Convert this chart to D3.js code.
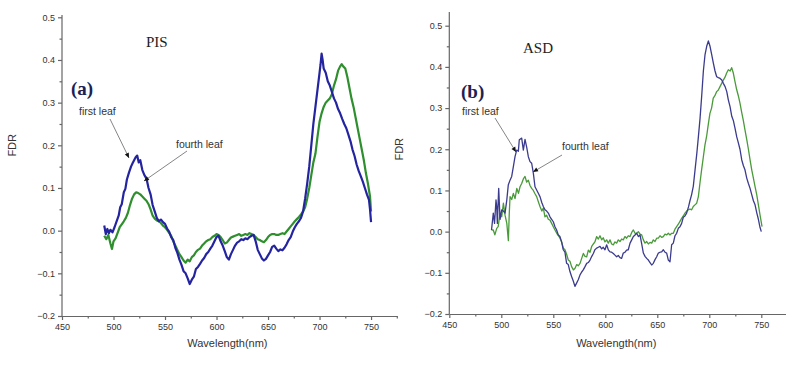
<!DOCTYPE html>
<html>
<head>
<meta charset="utf-8">
<script src="https://cdn.jsdelivr.net/npm/d3@7"></script>
<style>
  body { margin: 0; background: #fff; }
  svg { display: block; }
  .tick text { font-family: "Liberation Sans Narrow", "Arial Narrow", "Liberation Sans", Arial, sans-serif; font-size: 9px; fill: #333; }
  .axis path, .axis line { stroke: #666; stroke-width: 1.2; }
  .axis-label { font-family: "Liberation Sans", Arial, sans-serif; font-size: 11px; fill: #333; }
  .note { font-family: "Liberation Sans Narrow", "Arial Narrow", "Liberation Sans", Arial, sans-serif; font-size: 10.5px; fill: #333; }
  .title { font-family: "Liberation Serif", "Times New Roman", serif; font-size: 15px; fill: #222; }
  .tag { font-family: "Liberation Serif", "Times New Roman", serif; font-size: 19px; font-weight: bold; fill: #1c2152; }
</style>
</head>
<body>
<div class="chart"></div>
<script>
var svgWidth = 786;
var svgHeight = 365;

// tick values
var xTicks = [450, 500, 550, 600, 650, 700, 750];
var yTicks = [-0.2, -0.1, 0.0, 0.1, 0.2, 0.3, 0.4, 0.5];

// PIS, first leaf  [wavelength, FDR]
var pisFirst = [[491,0.012],[492.5,-0.008],[494,0.004],[495.5,-0.006],[497,0.002],[499,-0.004],[501,0.008],[503,0.022],
  [505,0.035],[506.5,0.055],[508,0.062],[510,0.09],[511.5,0.098],[513,0.12],[515,0.136],[517,0.15],[518.5,0.158],
  [520,0.165],[521.5,0.172],[523,0.176],[524.5,0.16],[526,0.165],[528,0.142],[530,0.13],[532,0.122],[534,0.1],
  [536,0.085],[538,0.06],[540,0.045],[542,0.03],[544,0.022],[546,0.026],[548,0.02],[550,0.016],[552,0.005],
  [554,-0.002],[556,-0.015],[558,-0.022],[560,-0.04],[562,-0.052],[564,-0.068],[566,-0.08],[568,-0.095],[570,-0.1],
  [572,-0.112],[574,-0.125],[576,-0.115],[578,-0.108],[580,-0.09],[582,-0.085],[584,-0.078],[586,-0.07],[588,-0.064],
  [590,-0.055],[592,-0.05],[594,-0.042],[596,-0.035],[598,-0.025],[600,-0.015],[602,-0.012],[604,-0.025],[606,-0.035],
  [608,-0.048],[610,-0.062],[612,-0.068],[614,-0.055],[616,-0.045],[618,-0.035],[620,-0.028],[622,-0.025],[624,-0.02],
  [626,-0.022],[628,-0.018],[630,-0.02],[632,-0.015],[634,-0.012],[636,-0.01],[638,-0.025],[640,-0.045],[642,-0.055],
  [644,-0.065],[646,-0.07],[648,-0.066],[650,-0.058],[652,-0.05],[654,-0.038],[656,-0.035],[658,-0.042],[660,-0.048],
  [662,-0.044],[664,-0.046],[666,-0.04],[668,-0.032],[670,-0.022],[672,-0.015],[674,-0.002],[676,0.008],[678,0.016],
  [680,0.022],[682,0.03],[684,0.045],[686,0.075],[688,0.11],[690,0.15],[692,0.2],[694,0.25],[696,0.29],[698,0.33],
  [700,0.37],[701,0.39],[702,0.415],[703,0.4],[704,0.38],[706,0.37],[708,0.35],[710,0.34],[712,0.325],[714,0.31],
  [716,0.3],[718,0.285],[720,0.275],[722,0.262],[724,0.25],[726,0.24],[728,0.225],[730,0.21],[732,0.19],[734,0.175],
  [736,0.155],[738,0.14],[740,0.128],[742,0.115],[744,0.1],[746,0.085],[748,0.072],[749,0.05],[750,0.02]];

// PIS, fourth leaf
var pisFourth = [[491,-0.012],[493,-0.02],[495,-0.01],[497,-0.03],[498.5,-0.043],[500,-0.025],[502,-0.018],[504,-0.005],
  [506,0.008],[508,0.015],[510,0.022],[512,0.03],[514,0.042],[516,0.06],[518,0.075],[520,0.085],[522,0.09],[524,0.088],
  [526,0.085],[528,0.08],[530,0.075],[532,0.07],[534,0.062],[536,0.05],[538,0.035],[540,0.028],[542,0.024],[544,0.022],
  [546,0.018],[548,0.012],[550,0.008],[552,0.002],[554,-0.005],[556,-0.012],[558,-0.025],[560,-0.035],[562,-0.045],
  [564,-0.055],[566,-0.062],[568,-0.07],[570,-0.075],[572,-0.068],[574,-0.072],[576,-0.062],[578,-0.058],[580,-0.05],
  [582,-0.045],[584,-0.042],[586,-0.035],[588,-0.03],[590,-0.025],[592,-0.022],[594,-0.02],[596,-0.015],[598,-0.012],
  [600,-0.008],[602,-0.01],[604,-0.015],[606,-0.022],[608,-0.03],[610,-0.028],[612,-0.022],[614,-0.016],[616,-0.014],
  [618,-0.012],[620,-0.01],[622,-0.008],[624,-0.012],[626,-0.01],[628,-0.008],[630,-0.01],[632,-0.006],[634,-0.008],
  [636,-0.01],[638,-0.015],[640,-0.02],[642,-0.022],[644,-0.025],[646,-0.027],[648,-0.022],[650,-0.015],[652,-0.01],
  [654,-0.008],[656,-0.008],[658,-0.01],[660,-0.01],[662,-0.008],[664,-0.006],[666,-0.008],[668,-0.002],[670,0.004],
  [672,0.01],[674,0.016],[676,0.022],[678,0.027],[680,0.032],[682,0.038],[684,0.045],[686,0.055],[688,0.075],[690,0.1],
  [692,0.13],[694,0.16],[696,0.18],[698,0.22],[700,0.255],[702,0.275],[704,0.29],[706,0.3],[708,0.305],[710,0.31],
  [712,0.32],[714,0.34],[716,0.355],[718,0.375],[720,0.385],[721.5,0.39],[723,0.385],[725,0.38],[727,0.36],[729,0.335],
  [731,0.31],[733,0.29],[735,0.265],[737,0.24],[739,0.215],[741,0.19],[743,0.165],[745,0.135],[747,0.11],[749,0.08],
  [750,0.045]];

// ASD, first leaf
var asdFirst = [[490.6,0.004],[492.3,0.045],[493.5,0.02],[494.9,0.077],[495.6,0.06],[496.2,0.02],[497.5,0.105],[498.8,0.03],
  [500.4,0.053],[502,0.05],[503.6,0.045],[505.3,0.077],[506.7,0.113],[508.4,0.125],[510,0.134],[511.6,0.158],[513.2,0.182],
  [514.8,0.198],[516.4,0.195],[517.3,0.223],[519.6,0.227],[521.2,0.198],[522.8,0.224],[524.4,0.205],[526,0.182],
  [527.6,0.17],[529.2,0.166],[530.8,0.142],[532.4,0.109],[534,0.101],[535.6,0.093],[537.2,0.085],[539,0.07],[540.4,0.061],
  [542,0.053],[543.6,0.05],[545.2,0.045],[546.8,0.036],[548.4,0.03],[550,0.024],[551.6,0.012],[553.2,0.004],[554.8,-0.008],
  [556.4,-0.012],[558,-0.025],[559.6,-0.044],[561.2,-0.05],[562.8,-0.077],[564.4,-0.08],[566,-0.097],[567.6,-0.109],
  [569.2,-0.12],[570.8,-0.133],[572.4,-0.125],[574,-0.117],[575.7,-0.105],[577.3,-0.098],[578.8,-0.093],[580.5,-0.085],
  [582.1,-0.077],[583.7,-0.075],[585.3,-0.069],[587,-0.06],[588.5,-0.053],[590,-0.044],[591.7,-0.04],[593.3,-0.038],
  [594.9,-0.036],[596.5,-0.042],[598,-0.038],[599.7,-0.044],[601.3,-0.032],[603,-0.045],[604.5,-0.049],[606.1,-0.05],
  [607.7,-0.053],[609.3,-0.057],[610.9,-0.061],[612.5,-0.058],[614.1,-0.063],[615.7,-0.065],[617.3,-0.052],[618.9,-0.05],
  [620.5,-0.045],[622.1,-0.044],[623.8,-0.028],[625.4,-0.02],[627,-0.012],[628.6,-0.008],[630.2,-0.004],[631.8,-0.012],
  [633.4,-0.008],[635,-0.03],[636.6,-0.052],[638.2,-0.06],[639.8,-0.065],[641.4,-0.069],[643,-0.075],[644.6,-0.081],
  [646.2,-0.077],[647.8,-0.068],[649.4,-0.061],[651,-0.052],[652.6,-0.05],[654.2,-0.049],[655.8,-0.044],[657.4,-0.05],
  [659,-0.052],[660.6,-0.069],[662.2,-0.073],[663.8,-0.032],[665.4,-0.028],[667,-0.01],[668.6,-0.004],[670.2,0.008],
  [671.8,0.012],[673.4,0.02],[675,0.035],[676.6,0.038],[678.2,0.045],[680,0.06],[681.4,0.075],[683,0.09],[684.6,0.11],
  [686.3,0.15],[688,0.19],[689.5,0.23],[691.1,0.275],[692.7,0.33],[694.3,0.39],[695.9,0.43],[697.5,0.45],[699.1,0.463],
  [700.7,0.45],[702.3,0.43],[703.9,0.409],[705.5,0.39],[707.1,0.376],[708.7,0.374],[710.4,0.372],[712,0.368],[713.5,0.36],
  [715.2,0.352],[716.8,0.34],[718.3,0.32],[720,0.303],[721.6,0.28],[723.1,0.27],[724.8,0.25],[726.4,0.23],[728,0.215],
  [729.5,0.2],[731.2,0.174],[732.8,0.16],[734.3,0.15],[736,0.13],[737.6,0.117],[739.2,0.105],[740.8,0.09],[742.4,0.075],
  [744,0.065],[745.7,0.045],[747.2,0.03],[748.8,0.01],[750,0.0]];

// ASD, fourth leaf
var asdFourth = [[490.6,0.004],[492.3,0.004],[493.8,-0.008],[495.6,0.008],[497,0.012],[498.8,0.045],[500.4,0.036],[502,0.069],
  [503.6,0.04],[505.3,0.02],[506.8,-0.022],[507.6,0.04],[508.4,0.085],[510,0.078],[511.6,0.093],[513.2,0.08],[514.9,0.105],
  [516.5,0.093],[518,0.109],[519.6,0.117],[521.2,0.128],[522.8,0.134],[524.4,0.12],[526,0.125],[527.6,0.112],[529.2,0.105],
  [530.8,0.1],[532.4,0.092],[534,0.085],[535.7,0.072],[537.2,0.061],[539,0.05],[540.4,0.057],[542,0.036],[543.6,0.04],
  [545.2,0.03],[546.8,0.028],[548.4,0.02],[550,0.012],[551.6,0.004],[553.3,-0.004],[555,-0.01],[556.4,-0.016],[558,-0.025],
  [559.6,-0.04],[561.2,-0.044],[562.8,-0.055],[564.4,-0.069],[566,-0.072],[567.6,-0.085],[569.3,-0.093],[570.9,-0.089],
  [572.5,-0.08],[574,-0.083],[575.7,-0.077],[577.3,-0.065],[578.9,-0.053],[580.5,-0.06],[582.1,-0.061],[583.7,-0.045],
  [585.3,-0.05],[586.9,-0.036],[588.5,-0.03],[590,-0.025],[591.7,-0.012],[593.3,-0.018],[594.9,-0.01],[596.5,-0.02],
  [598,-0.015],[599.7,-0.025],[601.3,-0.02],[602.9,-0.028],[604.5,-0.02],[606.1,-0.03],[607.7,-0.032],[609.3,-0.025],
  [610.9,-0.028],[612.5,-0.02],[614.1,-0.024],[615.7,-0.018],[617.3,-0.02],[618.9,-0.012],[620.5,-0.016],[622.1,-0.01],
  [623.8,-0.012],[625.4,-0.002],[627,0.004],[628.6,-0.004],[630.2,-0.004],[631.8,0.0],[633.4,-0.006],[635,-0.008],
  [636.6,-0.02],[638.2,-0.028],[639.8,-0.024],[641.4,-0.03],[643,-0.026],[644.6,-0.028],[646.2,-0.02],[647.8,-0.024],
  [649.4,-0.016],[651,-0.016],[652.6,-0.01],[654.2,-0.014],[655.8,-0.012],[657.4,-0.006],[659,-0.008],[660.6,-0.004],
  [662.2,-0.008],[663.8,-0.004],[665.4,-0.004],[667,0.006],[668.6,0.012],[670.2,0.018],[671.8,0.025],[673.4,0.032],
  [675,0.038],[676.6,0.045],[678.2,0.05],[679.8,0.053],[681.4,0.055],[683,0.053],[684.6,0.061],[686.2,0.065],[687.9,0.069],
  [689.5,0.085],[691.1,0.12],[692.6,0.15],[694.2,0.18],[695.8,0.21],[697.4,0.231],[699,0.26],[700.6,0.287],[702.2,0.3],
  [703.8,0.324],[705.4,0.33],[707.1,0.34],[708.7,0.344],[710.3,0.352],[711.9,0.36],[713.5,0.368],[715.1,0.375],[716.7,0.385],
  [718.3,0.393],[720,0.39],[721.5,0.398],[723.1,0.385],[724.7,0.364],[726.3,0.345],[727.9,0.33],[729.5,0.312],[731.1,0.29],
  [732.7,0.27],[734.3,0.247],[735.9,0.225],[737.6,0.2],[739.2,0.174],[740.8,0.15],[742.4,0.13],[744,0.109],[745.6,0.09],
  [747.2,0.065],[748.8,0.04],[750.7,0.012]];

var svg = d3.select(".chart")
  .append("svg")
  .attr("width", svgWidth)
  .attr("height", svgHeight);

function drawPanel(p) {
  var x = d3.scaleLinear().domain([450, 775]).range([p.left, p.right]);
  var y = d3.scaleLinear().domain([-0.2, 0.5]).range([p.bottom, p.top]);

  // minor ticks
  var g = svg.append("g");
  g.append("g")
    .attr("class", "axis")
    .attr("transform", `translate(0, ${p.bottom})`)
    .call(d3.axisBottom(x).tickValues(d3.range(475, 776, 50)).tickSize(2.5).tickFormat(""))
    .select(".domain").remove();
  g.append("g")
    .attr("class", "axis")
    .attr("transform", `translate(${p.left}, 0)`)
    .call(d3.axisLeft(y).tickValues(d3.range(-0.15, 0.5, 0.1)).tickSize(2.5).tickFormat(""))
    .select(".domain").remove();

  // major axes
  g.append("g")
    .attr("class", "axis")
    .attr("transform", `translate(0, ${p.bottom})`)
    .call(d3.axisBottom(x).tickValues(xTicks).tickSize(4).tickSizeOuter(0).tickPadding(4));
  var yAxis = g.append("g")
    .attr("class", "axis")
    .attr("transform", `translate(${p.left}, 0)`)
    .call(d3.axisLeft(y).tickValues(yTicks).tickSize(4).tickSizeOuter(0).tickPadding(3).tickFormat(d3.format(".1f")));
  yAxis.select(".domain").attr("d", `M0,${p.bottom}V${p.axisTop}`);

  var line = d3.line().x(d => x(d[0])).y(d => y(d[1]));

  g.append("path").datum(p.fourth)
    .attr("fill", "none").attr("stroke", p.green).attr("stroke-width", p.sw)
    .attr("stroke-linejoin", "round").attr("d", line);
  g.append("path").datum(p.first)
    .attr("fill", "none").attr("stroke", p.blue).attr("stroke-width", p.sw)
    .attr("stroke-linejoin", "round").attr("d", line);

  // labels
  g.append("text").attr("class", "axis-label")
    .attr("text-anchor", "middle")
    .attr("x", (x(450) + x(775)) / 2 - 2).attr("y", 347)
    .text("Wavelength(nm)");
  g.append("text").attr("class", "axis-label")
    .attr("text-anchor", "middle")
    .attr("transform", `translate(${p.left - 46}, ${y(0.2)}) rotate(-90)`)
    .text("FDR");

  g.append("text").attr("class", "title").attr("x", p.titleX).attr("y", p.titleY).text(p.title);
  g.append("text").attr("class", "tag").attr("x", p.tagX).attr("y", p.tagY).text(p.tag);

  // annotations with arrows
  p.notes.forEach(function(n) {
    g.append("text").attr("class", "note").attr("x", n.tx).attr("y", n.ty).text(n.text);
    g.append("line")
      .attr("x1", n.x1).attr("y1", n.y1).attr("x2", n.x2).attr("y2", n.y2)
      .attr("stroke", "#777").attr("stroke-width", 0.9);
    var ang = Math.atan2(n.y2 - n.y1, n.x2 - n.x1);
    var hl = 5, hw = 2.2;
    var bx = n.x2 - hl * Math.cos(ang), by = n.y2 - hl * Math.sin(ang);
    g.append("path")
      .attr("d", `M${n.x2},${n.y2}L${bx - hw * Math.sin(ang)},${by + hw * Math.cos(ang)}L${bx + hw * Math.sin(ang)},${by - hw * Math.cos(ang)}Z`)
      .attr("fill", "#111");
  });
}

drawPanel({
  left: 62, right: 396.8, top: 17.3, bottom: 316, axisTop: 15,
  first: pisFirst, fourth: pisFourth,
  blue: "#2424a0", green: "#2f8f2f", sw: 2.2,
  title: "PIS", titleX: 146, titleY: 47,
  tag: "(a)", tagX: 71, tagY: 95,
  notes: [
    {text: "first leaf", tx: 79, ty: 115, x1: 110, y1: 119, x2: 129, y2: 158},
    {text: "fourth leaf", tx: 176, ty: 148, x1: 187, y1: 151, x2: 144, y2: 181}
  ]
});

drawPanel({
  left: 449.3, right: 787.3, top: 25.7, bottom: 314, axisTop: 12,
  first: asdFirst, fourth: asdFourth,
  blue: "#3b3b8e", green: "#4a9a3a", sw: 1.3,
  title: "ASD", titleX: 523, titleY: 53,
  tag: "(b)", tagX: 461, tagY: 98,
  notes: [
    {text: "first leaf", tx: 462, ty: 115, x1: 495, y1: 118, x2: 516, y2: 152},
    {text: "fourth leaf", tx: 562, ty: 150, x1: 562, y1: 155, x2: 533, y2: 172}
  ]
});
</script>
</body>
</html>
